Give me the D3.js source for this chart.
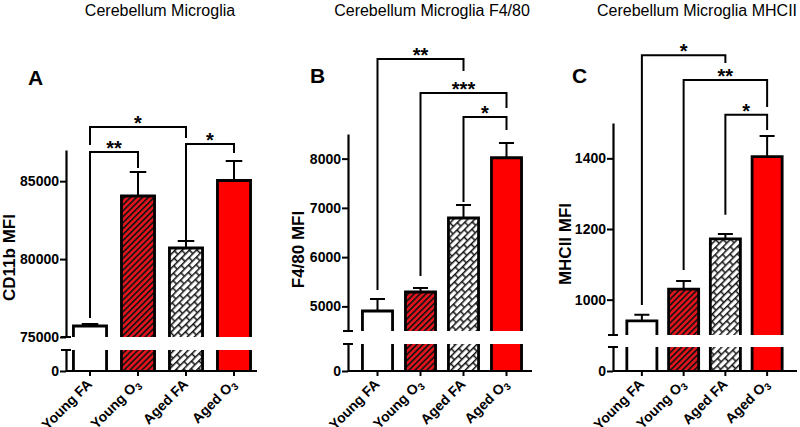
<!DOCTYPE html>
<html>
<head>
<meta charset="utf-8">
<script src="https://cdn.jsdelivr.net/npm/d3@7"></script>
<style>
  body { margin: 0; background: #fff; }
  svg text { font-family: Arial, "Liberation Sans", Helvetica, sans-serif; }
</style>
</head>
<body>
<script>
// groups on the x axis
var groups = ["Young FA", "Young O3", "Aged FA", "Aged O3"];

// CD11b (panel A)
var cd11bMean = [75706, 84048, 80711, 85043];
var cd11bSem = [128, 1540, 449, 1251];
var cd11bTicks = [75000, 80000, 85000];
// F4/80 (panel B)
var f480Mean = [4906, 5292, 6794, 8018];
var f480Sem = [244, 81, 264, 298];
var f480Ticks = [5000, 6000, 7000, 8000];
// MHCII (panel C)
var mhciiMean = [940, 1030, 1172, 1405];
var mhciiSem = [17, 23, 14, 58];
var mhciiTicks = [1000, 1200, 1400];

// significance brackets: [from, to, bar height, left leg end, right leg end, label]
var cd11bSig = [[0, 1, 86871, 76219, 85845, "**"], [0, 2, 88476, 87321, 87770, "*"], [2, 3, 87385, 81225, 86807, "*"]];
var f480Sig = [[0, 2, 10022, 5332, 9778, "**"], [1, 3, 9331, 5617, 9027, "***"], [2, 3, 8844, 7119, 8580, "*"]];
var mhciiSig = [[0, 2, 1692, 985, 1670, "*"], [1, 3, 1622, 1084, 1545, "**"], [2, 3, 1523, 1240, 1480, "*"]];

var svg = d3.select("body").append("svg").attr("width", 800).attr("height", 427);

var defs = svg.append("defs");
var stripe = defs.append("pattern").attr("id", "stripe").attr("patternUnits", "userSpaceOnUse")
  .attr("width", 8).attr("height", 4.2).attr("patternTransform", "rotate(-45)");
stripe.append("rect").attr("width", 8).attr("height", 4.2).attr("fill", "#e0141c");
stripe.append("line").attr("x1", 0).attr("x2", 8).attr("y1", 0.8).attr("y2", 0.8).attr("stroke", "#111").attr("stroke-width", 1.6);

var brick = defs.append("pattern").attr("id", "brick").attr("patternUnits", "userSpaceOnUse")
  .attr("width", 11).attr("height", 10).attr("patternTransform", "rotate(-45)");
brick.append("rect").attr("width", 11).attr("height", 10).attr("fill", "#fff");
brick.append("path").attr("d", "M0,0.7H11M0,5.7H11M1,0.7V5.7M6.5,5.7V10")
  .attr("stroke", "#111").attr("stroke-width", 1.5).attr("fill", "none");

var fills = ["#fff", "url(#stripe)", "url(#brick)", "#ff0000"];

var panels = [
  { letter: "A", title: "Cerebellum Microglia", titleX: 160, letterX: 28, letterY: 85, ylab: "CD11b MFI", ylabX: 15,
    mean: cd11bMean, sem: cd11bSem, ticks: cd11bTicks, sig: cd11bSig,
    axisX: 66, band: [66, 258], xEnd: 257, pad: 0.31, upper: [75000, 87000], upperPx: [337, 150], lowerPx: [371, 350] },
  { letter: "B", title: "Cerebellum Microglia F4/80", titleX: 432, letterX: 310, letterY: 83, ylab: "F4/80 MFI", ylabX: 304,
    mean: f480Mean, sem: f480Sem, ticks: f480Ticks, sig: f480Sig,
    axisX: 348, band: [356, 528], xEnd: 532, pad: 0.3, upper: [4500, 8500], upperPx: [331, 134], lowerPx: [371, 344] },
  { letter: "C", title: "Cerebellum Microglia MHCII", titleX: 697, letterX: 572, letterY: 83, ylab: "MHCII MFI", ylabX: 571,
    mean: mhciiMean, sem: mhciiSem, ticks: mhciiTicks, sig: mhciiSig,
    axisX: 613, band: [621, 788], xEnd: 797, pad: 0.28, upper: [900, 1500], upperPx: [335, 123], lowerPx: [371, 347] }
];

panels.forEach(function(p) {
  var g = svg.append("g");
  var x = d3.scaleBand().domain(groups).range(p.band).paddingInner(p.pad).paddingOuter(p.pad / 2);
  var yU = d3.scaleLinear().domain(p.upper).range(p.upperPx);
  var lowMax = p.upper[0] / 10;
  var yL = d3.scaleLinear().domain([0, lowMax]).range(p.lowerPx);
  var bw = x.bandwidth();

  g.append("text").attr("x", p.titleX).attr("y", 16).attr("text-anchor", "middle")
    .style("font-size", "16px").text(p.title);
  g.append("text").attr("x", p.letterX).attr("y", p.letterY)
    .style("font-size", "21px").style("font-weight", "bold").text(p.letter);

  var rows = groups.map(function(d, i) { return { k: d, i: i, m: p.mean[i], s: p.sem[i] }; });

  // bar fills, upper and lower part
  g.selectAll(".barU").data(rows).enter().append("rect")
    .attr("x", function(d) { return x(d.k); }).attr("width", bw)
    .attr("y", function(d) { return yU(d.m); })
    .attr("height", function(d) { return yU(p.upper[0]) - yU(d.m); })
    .attr("fill", function(d) { return fills[d.i]; });
  g.selectAll(".barL").data(rows).enter().append("rect")
    .attr("x", function(d) { return x(d.k); }).attr("width", bw)
    .attr("y", yL(lowMax)).attr("height", yL(0) - yL(lowMax))
    .attr("fill", function(d) { return fills[d.i]; });

  // outlines (open at the break)
  g.selectAll(".outU").data(rows).enter().append("path")
    .attr("d", function(d) {
      var x0 = x(d.k), x1 = x0 + bw;
      return "M" + x0 + "," + yU(p.upper[0]) + "V" + yU(d.m) + "H" + x1 + "V" + yU(p.upper[0]);
    })
    .attr("fill", "none").attr("stroke", "#000").attr("stroke-width", 2.8);
  g.selectAll(".outL").data(rows).enter().append("path")
    .attr("d", function(d) {
      var x0 = x(d.k), x1 = x0 + bw;
      return "M" + x0 + "," + yL(lowMax) + "V" + yL(0) + "M" + x1 + "," + yL(lowMax) + "V" + yL(0);
    })
    .attr("fill", "none").attr("stroke", "#000").attr("stroke-width", 2.8);

  // error bars (upper only)
  g.selectAll(".err").data(rows).enter().append("path")
    .attr("d", function(d) {
      var cx = x(d.k) + bw / 2, t = yU(d.m + d.s);
      return "M" + cx + "," + yU(d.m) + "V" + t + "M" + (cx - bw / 4) + "," + t + "H" + (cx + bw / 4);
    })
    .attr("fill", "none").attr("stroke", "#000").attr("stroke-width", 2);

  // y axis, two segments
  var axU = g.append("g").attr("transform", "translate(" + p.axisX + ",0)")
    .call(d3.axisLeft(yU).tickValues(p.ticks).tickSize(6).tickSizeOuter(0).tickFormat(d3.format("d")));
  var axL = g.append("g").attr("transform", "translate(" + p.axisX + ",0)")
    .call(d3.axisLeft(yL).tickValues([0]).tickSize(6).tickSizeOuter(0).tickFormat(d3.format("d")));
  [axU, axL].forEach(function(a) {
    a.select(".domain").attr("stroke-width", 2.2);
    a.selectAll(".tick line").attr("stroke-width", 2);
    a.selectAll(".tick text").attr("x", -7).style("font-size", "14px").style("font-weight", "bold")
      .style("font-family", "Arial, 'Liberation Sans', sans-serif").attr("fill", "#000");
  });
  // break marks
  [yU(p.upper[0]), yL(lowMax)].forEach(function(yy) {
    g.append("line").attr("x1", p.axisX - 5).attr("x2", p.axisX + 5).attr("y1", yy).attr("y2", yy)
      .attr("stroke", "#000").attr("stroke-width", 2);
  });

  // x axis
  g.append("line").attr("x1", p.axisX).attr("x2", p.xEnd).attr("y1", yL(0)).attr("y2", yL(0))
    .attr("stroke", "#000").attr("stroke-width", 2.2);
  var axX = g.append("g").attr("transform", "translate(0," + yL(0) + ")")
    .call(d3.axisBottom(x).tickSize(5).tickSizeOuter(0));
  axX.select(".domain").remove();
  axX.selectAll(".tick line").attr("stroke-width", 2);
  axX.selectAll(".tick text").each(function(d) {
    var t = d3.select(this).text(null)
      .attr("x", 0).attr("y", 0).attr("dy", null)
      .attr("text-anchor", "end")
      .attr("transform", "translate(3,14) rotate(-45)")
      .style("font-size", "14px").style("font-weight", "bold")
      .style("font-family", "Arial, 'Liberation Sans', sans-serif").attr("fill", "#000");
    if (/O3$/.test(d)) {
      t.append("tspan").text(d.slice(0, -1));
      t.append("tspan").attr("dy", 3).style("font-size", "10px").text("3");
    } else {
      t.text(d);
    }
  });

  // y axis title
  g.append("text")
    .attr("transform", "translate(" + p.ylabX + "," + ((p.upperPx[1] + p.lowerPx[0]) / 2 - 3) + ") rotate(-90)")
    .attr("text-anchor", "middle").style("font-size", "17px").style("font-weight", "bold").text(p.ylab);

  // significance brackets
  p.sig.forEach(function(s) {
    var xa = x(groups[s[0]]) + bw / 2, xb = x(groups[s[1]]) + bw / 2, yy = yU(s[2]);
    g.append("path")
      .attr("d", "M" + xa + "," + yU(s[3]) + "V" + yy + "H" + xb + "V" + yU(s[4]))
      .attr("fill", "none").attr("stroke", "#000").attr("stroke-width", 2);
    g.append("text").attr("x", (xa + xb) / 2).attr("y", yy + 3).attr("text-anchor", "middle")
      .style("font-size", "20px").style("font-weight", "bold").text(s[5]);
  });
});
</script>
</body>
</html>
